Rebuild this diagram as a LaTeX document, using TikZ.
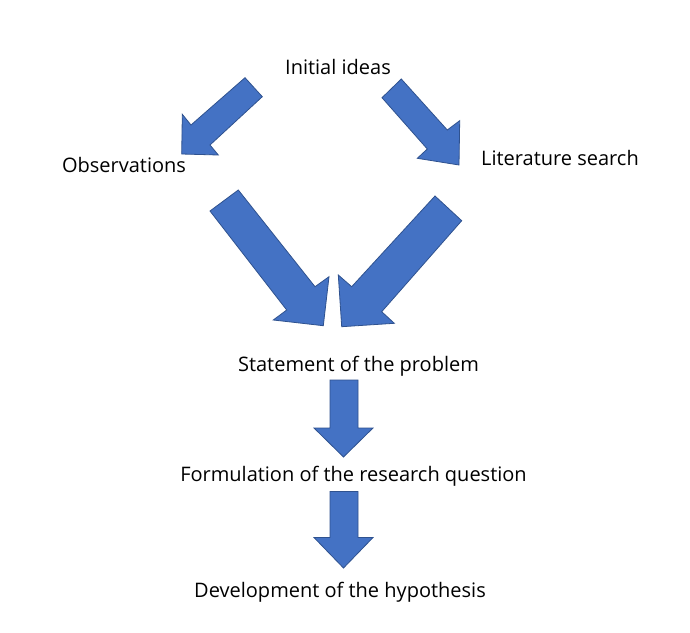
\documentclass[tikz,border=0pt]{standalone}
\usepackage{fontspec}
\setmainfont{Open Sans}
\definecolor{arrowfill}{HTML}{4472C4}
\definecolor{arrowline}{HTML}{2F528F}

\begin{document}
\begin{tikzpicture}[x=1pt, y=-1pt,
    stage/.style={anchor=base, inner sep=0pt, font=\fontsize{20}{24}\selectfont},
    blockarrow/.style={fill=arrowfill, draw=arrowline, line width=0.8pt, line join=miter}]
  \useasboundingbox[fill=white] (0,0) rectangle (690,632);

  % stages
  \node[stage] (ideas) at (338,74.5) {Initial ideas};
  \node[stage] (obs) at (124,172.5) {Observations};
  \node[stage] (lit) at (560,165.5) {Literature search};
  \node[stage] (problem) at (358.5,371) {Statement of the problem};
  \node[stage] (question) at (353.5,481) {Formulation of the research question};
  \node[stage] (hypo) at (340,597) {Development of the hypothesis};

  % ideas -> observations / literature
  \filldraw[blockarrow] (245,77.7) -- (262.3,96.7) -- (210,145) -- (218.3,155)
    -- (181.7,154) -- (182.3,114.3) -- (191,125) -- cycle;
  \filldraw[blockarrow] (401.3,79) -- (447.3,130) -- (459.7,120.7) -- (459,165)
    -- (417.3,158.3) -- (427.3,149) -- (382,97.7) -- cycle;

  % observations / literature -> problem
  \filldraw[blockarrow] (238.3,190) -- (315,286.7) -- (329,276.7) -- (323.3,325.7)
    -- (273.3,320) -- (286.7,310) -- (210,211) -- cycle;
  \filldraw[blockarrow] (435,196) -- (461.7,220.7) -- (381.7,311.7) -- (394.3,323.3)
    -- (341.7,326.7) -- (338.3,275) -- (351.7,286.7) -- cycle;

  % problem -> question -> hypothesis
  \filldraw[blockarrow] (330,380) -- (358,380) -- (358,428) -- (373,428)
    -- (343.5,457) -- (314,428) -- (330,428) -- cycle;
  \filldraw[blockarrow] (330,491.5) -- (358,491.5) -- (358,537.5) -- (373,537.5)
    -- (343.5,568) -- (314,537.5) -- (330,537.5) -- cycle;
\end{tikzpicture}
\end{document}
